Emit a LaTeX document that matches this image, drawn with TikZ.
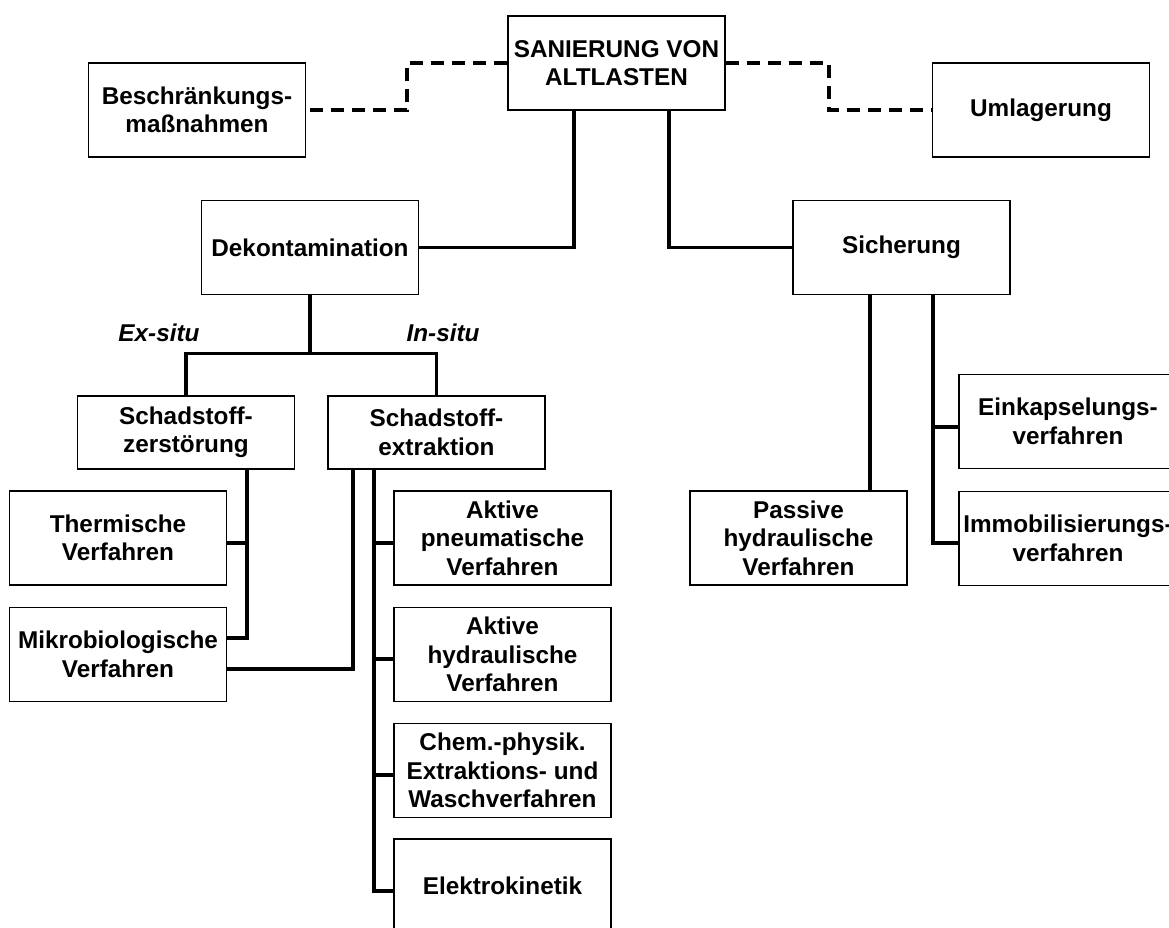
\documentclass[tikz,border=0pt]{standalone}
\usepackage{fontspec}
\setmainfont{Liberation Sans}
\usetikzlibrary{calc}
\newcommand{\boxfont}{\fontsize{24.3pt}{28.5pt}\selectfont\bfseries}
\begin{document}
\begin{tikzpicture}[x=1pt,y=-1pt,
  box/.style={draw, line width=1.8pt, minimum width=217pt, minimum height=94pt, inner sep=0pt, align=center, font=\boxfont},
  smallbox/.style={box, minimum height=73pt},
  conn/.style={line width=3.5pt},
  dashconn/.style={line width=3.5pt, dash pattern=on 13pt off 8pt},
  lbl/.style={font=\boxfont\itshape, inner sep=0pt}]
\useasboundingbox (0,0) rectangle (1169,928);
\clip (0,0) rectangle (1169,928);
\fill[white] (0,0) rectangle (1169,928);

% nodes
\node[box] (top) at (616.5,63) {SANIERUNG VON\\ALTLASTEN};
\node[box] (beschr) at (197,110) {Beschränkungs-\\maßnahmen};
\node[box] (uml) at (1041,110) {Umlagerung};
\node[box] (dekon) at (310,247.5) {Dekontamination};
\node[box] (sich) at (901.5,247.5) {Sicherung};
\node[smallbox] (zerst) at (186,432.5) {Schadstoff-\\zerstörung};
\node[smallbox] (extr) at (436.5,432.5) {Schadstoff-\\extraktion};
\node[box] (therm) at (118,538) {Thermische\\Verfahren};
\node[box] (mikro) at (118,654.5) {Mikrobiologische\\Verfahren};
\node[box] (pneu) at (502.5,538) {Aktive\\pneumatische\\Verfahren};
\node[box] (hydr) at (502.5,654.5) {Aktive\\hydraulische\\Verfahren};
\node[box] (chem) at (502.5,770.5) {Chem.-physik.\\Extraktions- und\\Waschverfahren};
\node[box] (elektro) at (502.5,886) {Elektrokinetik};
\node[box] (passive) at (798.5,538) {Passive\\hydraulische\\Verfahren};
\node[box, minimum width=218pt] (einkap) at (1068,421.5) {Einkapselungs-\\verfahren};
\node[box, minimum width=218pt] (immob) at (1068,538.5) {Immobilisierungs-\\verfahren};

\node[lbl] (exsitu) at (159,333) {Ex-situ};
\node[lbl] (insitu) at (443,333) {In-situ};

% dashed connectors
\draw[dashconn] (top.west) -| ($(top.west)!.5!(beschr.east)$) |- (beschr.east);
\draw[dashconn] (top.east) -| ($(top.east)!.5!(uml.west)$) |- (uml.west);

% solid connectors from top
\draw[conn] ([xshift=-42.5pt]top.south) |- (dekon.east);
\draw[conn] ([xshift=52.5pt]top.south) |- (sich.west);

% Dekontamination split
\draw[conn] (dekon.south) -- ++(0,58) coordinate (dk);
\draw[conn] (zerst.north) |- (dk) -| (extr.north);

% Schadstoffzerstoerung
\draw[conn] ([xshift=61pt]zerst.south) |- ([yshift=16.5pt]mikro.east);
\draw[conn] ([yshift=-5pt]therm.east) -- ++(20,0);

% Schadstoffextraktion
\draw[conn] ([xshift=-83.5pt]extr.south) |- ([yshift=-14.5pt]mikro.east);
\draw[conn] ([xshift=-62.5pt]extr.south) |- ([yshift=-5pt]elektro.west);
\draw[conn] ([yshift=-5pt]pneu.west) -- ++(-20,0);
\draw[conn] ([yshift=-4.5pt]hydr.west) -- ++(-20,0);
\draw[conn] ([yshift=-4.5pt]chem.west) -- ++(-20,0);

% Sicherung
\draw[conn] ([xshift=-31.5pt]sich.south) -- ([xshift=71.5pt]passive.north);
\draw[conn] ([xshift=31.5pt]sich.south) |- ([yshift=-4.5pt]immob.west);
\draw[conn] ([yshift=-5.5pt]einkap.west) -- ++(-26,0);
\end{tikzpicture}
\end{document}
